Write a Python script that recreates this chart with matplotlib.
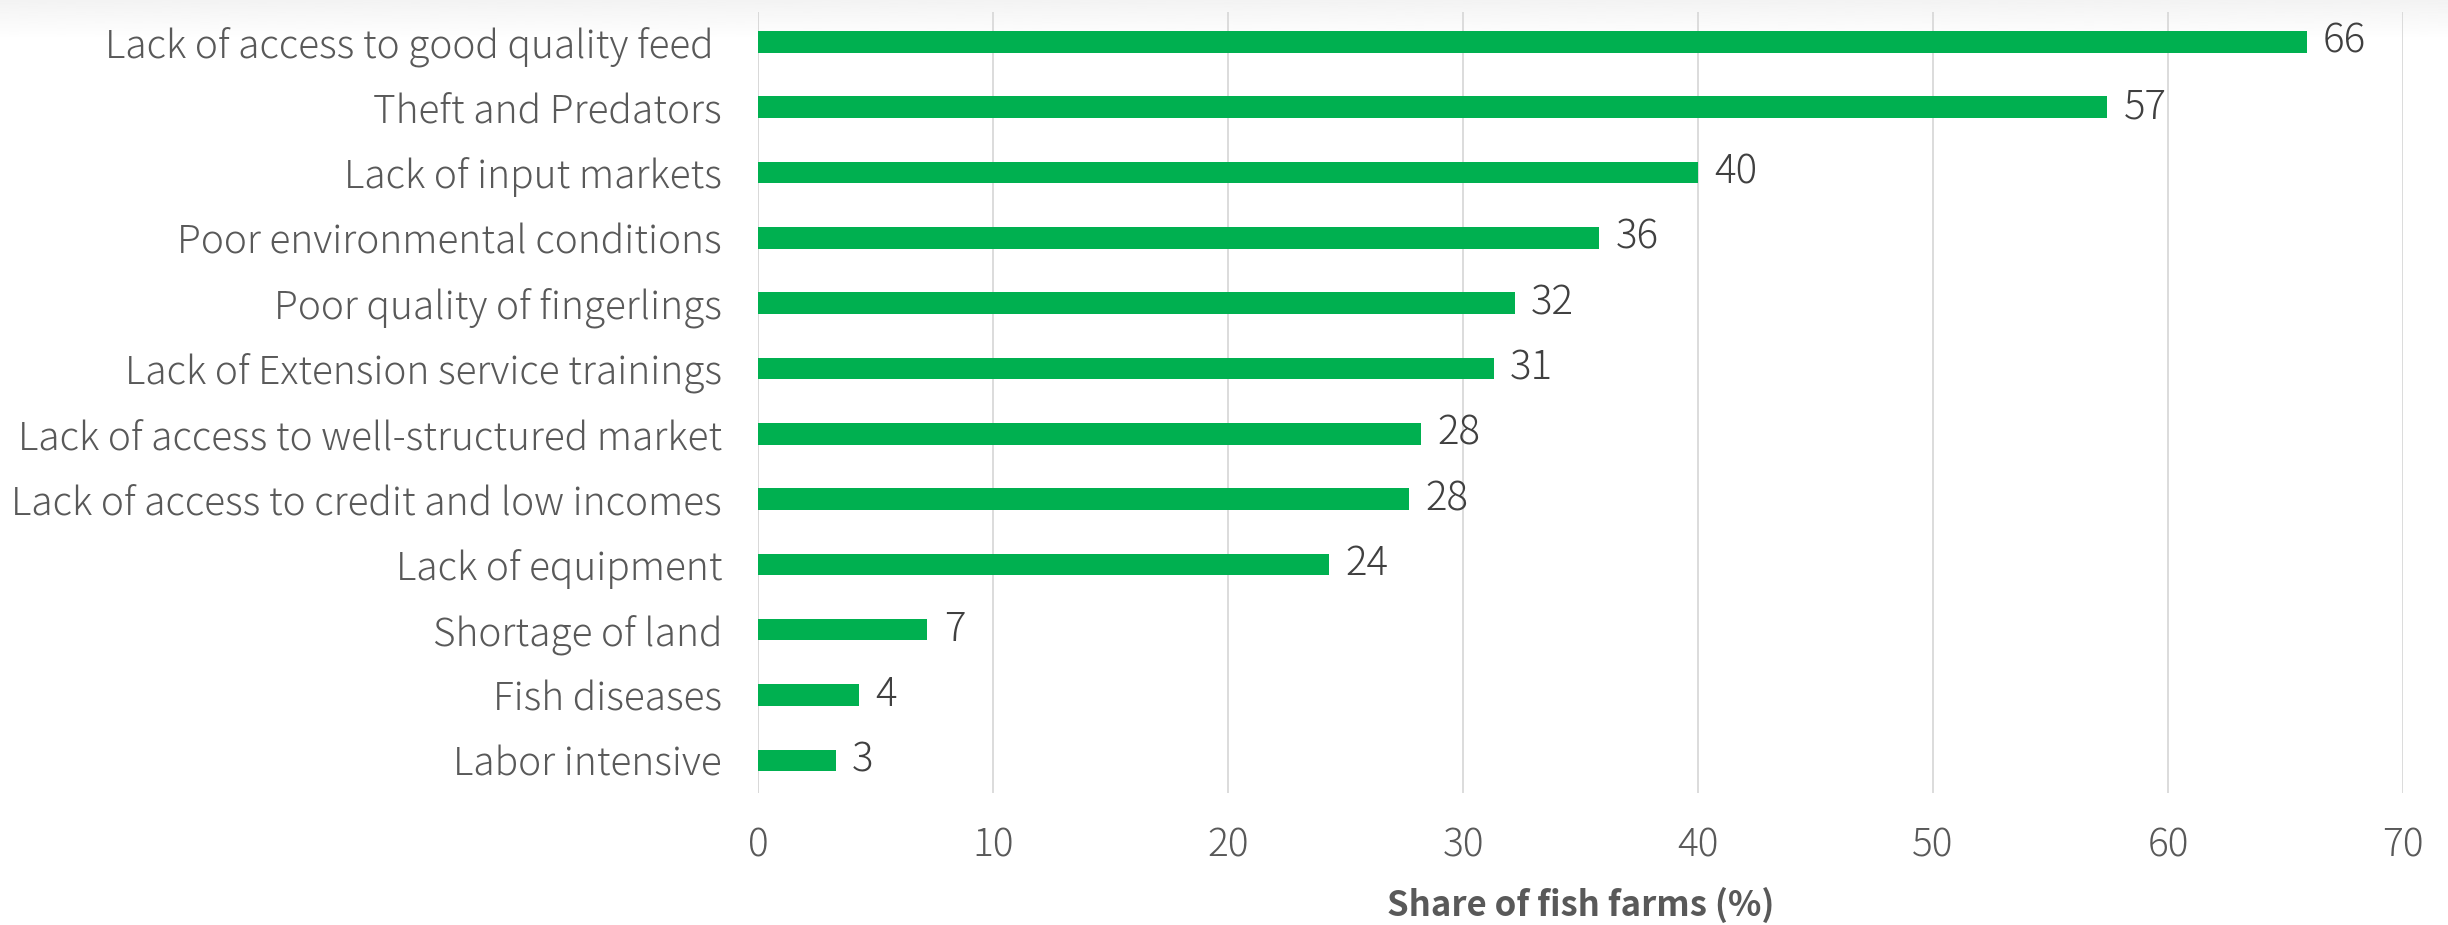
import matplotlib
matplotlib.use("Agg")
import matplotlib.pyplot as plt
import numpy as np
from matplotlib import font_manager

categories = [
    "Lack of access to good quality feed ",
    "Theft and Predators",
    "Lack of input markets",
    "Poor environmental conditions",
    "Poor quality of fingerlings",
    "Lack of Extension service trainings",
    "Lack of access to well-structured market",
    "Lack of access to credit and low incomes",
    "Lack of equipment",
    "Shortage of land",
    "Fish diseases",
    "Labor intensive",
]
shares = [65.9, 57.4, 40.0, 35.8, 32.2, 31.3, 28.2, 27.7, 24.3, 7.2, 4.3, 3.3]
x_ticks = [0, 10, 20, 30, 40, 50, 60, 70]
x_label = "Share of fish farms (%)"

BAR_COLOR = "#00B050"
TEXT_COLOR = "#595959"
GRID_COLOR = "#D9D9D9"

names = {f.name for f in font_manager.fontManager.ttflist}
family = "Noto Sans CJK JP" if "Noto Sans CJK JP" in names else "DejaVu Sans"
plt.rcParams["font.family"] = [family, "DejaVu Sans"]

fig = plt.figure(figsize=(24.48, 9.25), dpi=100)

# faint grey shading along the top edge
bg = fig.add_axes([0, 1 - 40 / 925, 1, 40 / 925], zorder=-1)
grad = np.linspace(0, 1, 64).reshape(-1, 1)
bg.imshow(grad, aspect="auto", cmap="gray", vmin=-20, vmax=1,
          extent=[0, 1, 0, 1], origin="upper")
bg.axis("off")

ax = fig.add_axes([0.3097, 0.1427, 0.6719, 0.8438])
ax.patch.set_alpha(0)

y = list(range(len(categories)))
ax.barh(y, shares, height=0.33, color=BAR_COLOR, zorder=3)

for yi, v in zip(y, shares):
    ax.text(v + 0.7, yi, f"{v:.0f}", va="center", ha="left",
            fontsize=29, color="#404040", fontweight="light")

ax.set_xlim(0, 70)
ax.set_ylim(len(categories) - 0.5, -0.45)
ax.set_xticks(x_ticks)
ax.set_yticks(y)
ax.set_yticklabels(categories)
ax.xaxis.grid(True, color=GRID_COLOR, linewidth=1.3, zorder=0)
ax.set_axisbelow(True)

for s in ax.spines.values():
    s.set_visible(False)
ax.axvline(0, color=GRID_COLOR, linewidth=1.3, zorder=1)

ax.tick_params(axis="both", length=0, labelsize=28, labelcolor=TEXT_COLOR)
ax.tick_params(axis="y", pad=26)
ax.tick_params(axis="x", pad=24)
for lab in ax.get_xticklabels() + ax.get_yticklabels():
    lab.set_fontweight("light")

ax.set_xlabel(x_label, fontsize=25, fontweight="bold", color=TEXT_COLOR, labelpad=15)

fig.savefig("out.png", dpi=100, facecolor="white")
